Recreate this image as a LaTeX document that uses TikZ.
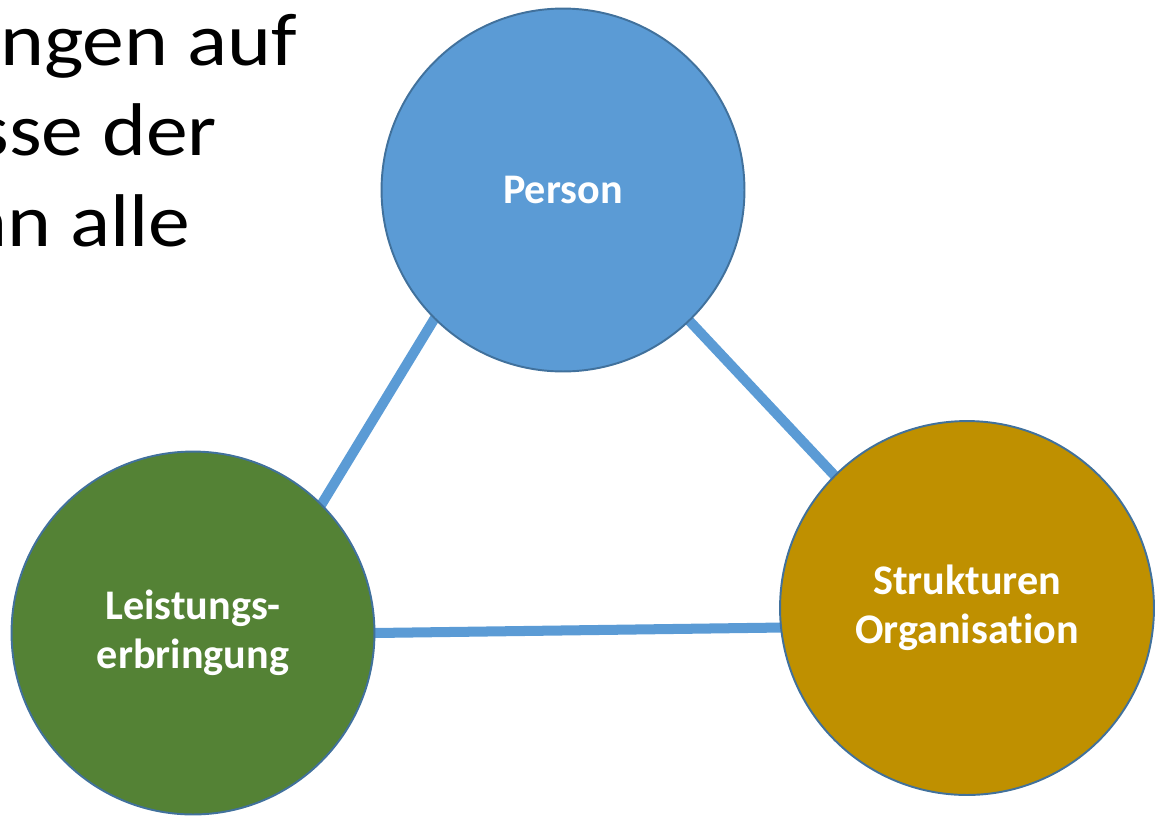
\documentclass[tikz,border=0pt]{standalone}
\usepackage{fontspec}
\setmainfont{Carlito}[RawFeature=-liga]
\usepackage{xcolor}
\usepackage{tikz}
\usetikzlibrary{backgrounds}

\definecolor{personblau}{HTML}{5B9BD5}
\definecolor{leistgruen}{HTML}{548235}
\definecolor{strukgold}{HTML}{BF9000}
\definecolor{randblau}{HTML}{41719C}

% breiter gesetzter Folientext
\newcommand{\gedehnt}[1]{\scalebox{1.12}[1]{#1}}

\begin{document}
\begin{tikzpicture}[x=0.02cm, y=-0.02cm,
    kreis/.style={circle, draw=randblau, line width=1.1pt, inner sep=0pt, outer sep=0pt,
      minimum size=7.26cm, text=white, align=center,
      font=\bfseries\fontsize{24}{28}\selectfont},
    verbindung/.style={draw=personblau, line width=5.7pt, shorten <=-6pt, shorten >=-6pt},
    folientext/.style={anchor=base west, inner sep=0pt, font=\fontsize{42.5}{51}\selectfont}]

    \useasboundingbox (0,0) rectangle (1155,815);

    % Textreste links oben
    \begin{scope}
        \clip (0,0) rectangle (1155,815);
        \node[folientext] (zeile1) at (0,65) {\gedehnt{ngen auf}};
        \node[folientext] (zeile2) at (-24,155) {\gedehnt{sse der}};
        \node[folientext] (zeile3) at (-33,246) {\gedehnt{an alle}};
    \end{scope}

    % drei Kreise
    \node[kreis, fill=personblau] (person) at (563,190) {Person};
    \node[kreis, fill=leistgruen] (leistung) at (193,633) {Leistungs-\\erbringung};
    \node[kreis, fill=strukgold, minimum size=7.48cm] (struktur) at (967,608) {Strukturen\\Organisation};

    % Verbindungen hinter den Kreisen
    \begin{scope}[on background layer]
        \draw[verbindung] (person.225) -- (leistung.45);
        \draw[verbindung] (person.314) -- (struktur.135);
        \draw[verbindung] (leistung.0) -- (struktur.186);
    \end{scope}
\end{tikzpicture}
\end{document}
